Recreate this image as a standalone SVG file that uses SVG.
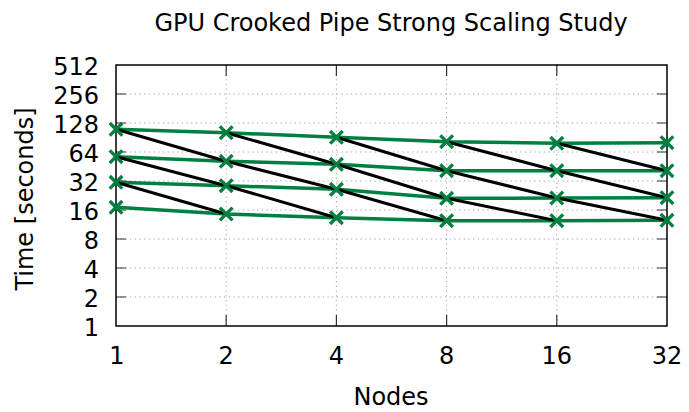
<svg xmlns="http://www.w3.org/2000/svg" xmlns:xlink="http://www.w3.org/1999/xlink" width="689" height="412" viewBox="0 0 689 412">
<style>
text { font-family: "DejaVu Sans", "Liberation Sans", sans-serif; font-size: 24px; fill: #000; }
.grid { stroke: #a0a0a0; stroke-width: 1; stroke-dasharray: 1.2 3.5; fill: none; }
.tick { stroke: #333; stroke-width: 1.2; fill: none; }
.green { stroke: #008040; stroke-width: 3.5; fill: none; stroke-linejoin: round; stroke-linecap: round; }
.black { stroke: #000; stroke-width: 3; fill: none; stroke-linejoin: round; stroke-linecap: round; }
.mk { stroke: #008040; stroke-width: 3.3; fill: none; }
</style>
<defs>
<path id="x" class="mk" d="M-6.3,-6.3L6.3,6.3M-6.3,6.3L6.3,-6.3"/>
</defs>
<rect width="689" height="412" fill="#fff"/>
<g id="grid">
<path class="grid" d="M116,297H667M116,268H667M116,239H667M116,210H667M116,181H667M116,152H667M116,123H667M116,94H667"/>
<path class="grid" d="M226.2,65V326M336.4,65V326M446.6,65V326M556.8,65V326"/>
</g>
<g id="ticks">
<path class="tick" d="M116,297h10M116,268h10M116,239h10M116,210h10M116,181h10M116,152h10M116,123h10M116,94h10"/>
<path class="tick" d="M667,297h-10M667,268h-10M667,239h-10M667,210h-10M667,181h-10M667,152h-10M667,123h-10M667,94h-10"/>
<path class="tick" d="M226.2,326v-11M336.4,326v-11M446.6,326v-11M556.8,326v-11"/>
<path class="tick" d="M226.2,65v11M336.4,65v11M446.6,65v11M556.8,65v11"/>
</g>
<rect id="frame" x="116" y="65" width="551" height="261" fill="none" stroke="#000" stroke-width="1.5"/>
<g id="series">
<polyline class="green" points="116,129.3 226.2,132.7 336.4,137.3 446.6,141.7 556.8,143.3 667,142.7"/>
<polyline class="green" points="116,156.7 226.2,161.3 336.4,164.3 446.6,170.7 556.8,170.7 667,170.7"/>
<polyline class="green" points="116,182.3 226.2,185.7 336.4,189.3 446.6,198.3 556.8,198 667,197.7"/>
<polyline class="green" points="116,207.3 226.2,214 336.4,217.7 446.6,220.7 556.8,220.7 667,220.3"/>
</g>
<g id="connectors">
<polyline class="black" points="116,129.3 226.2,161.3 336.4,189.3 446.6,220.7"/>
<polyline class="black" points="116,156.7 226.2,185.7 336.4,217.7"/>
<polyline class="black" points="116,182.3 226.2,214"/>
<polyline class="black" points="226.2,132.7 336.4,164.3 446.6,198.3 556.8,220.7"/>
<polyline class="black" points="336.4,137.3 446.6,170.7 556.8,198 667,220.3"/>
<polyline class="black" points="446.6,141.7 556.8,170.7 667,197.7"/>
<polyline class="black" points="556.8,143.3 667,170.7"/>
</g>
<g id="markers">
<use xlink:href="#x" x="116" y="129.3"/><use xlink:href="#x" x="226.2" y="132.7"/><use xlink:href="#x" x="336.4" y="137.3"/><use xlink:href="#x" x="446.6" y="141.7"/><use xlink:href="#x" x="556.8" y="143.3"/><use xlink:href="#x" x="667" y="142.7"/>
<use xlink:href="#x" x="116" y="156.7"/><use xlink:href="#x" x="226.2" y="161.3"/><use xlink:href="#x" x="336.4" y="164.3"/><use xlink:href="#x" x="446.6" y="170.7"/><use xlink:href="#x" x="556.8" y="170.7"/><use xlink:href="#x" x="667" y="170.7"/>
<use xlink:href="#x" x="116" y="182.3"/><use xlink:href="#x" x="226.2" y="185.7"/><use xlink:href="#x" x="336.4" y="189.3"/><use xlink:href="#x" x="446.6" y="198.3"/><use xlink:href="#x" x="556.8" y="198"/><use xlink:href="#x" x="667" y="197.7"/>
<use xlink:href="#x" x="116" y="207.3"/><use xlink:href="#x" x="226.2" y="214"/><use xlink:href="#x" x="336.4" y="217.7"/><use xlink:href="#x" x="446.6" y="220.7"/><use xlink:href="#x" x="556.8" y="220.7"/><use xlink:href="#x" x="667" y="220.3"/>
</g>
<g id="labels">
<text x="391" y="31" text-anchor="middle" font-size="24.2">GPU Crooked Pipe Strong Scaling Study</text>
<g text-anchor="end">
<text x="99" y="75">512</text>
<text x="99" y="104">256</text>
<text x="99" y="133">128</text>
<text x="99" y="162">64</text>
<text x="99" y="191">32</text>
<text x="99" y="220">16</text>
<text x="99" y="249">8</text>
<text x="99" y="278">4</text>
<text x="99" y="307">2</text>
<text x="99" y="336">1</text>
</g>
<g text-anchor="middle">
<text x="117" y="364">1</text>
<text x="226.2" y="364">2</text>
<text x="336.4" y="364">4</text>
<text x="446.6" y="364">8</text>
<text x="556.8" y="364">16</text>
<text x="667" y="364">32</text>
<text x="391" y="405">Nodes</text>
<text transform="translate(32.5,199) rotate(-90)">Time [seconds]</text>
</g>
</g>
</svg>
